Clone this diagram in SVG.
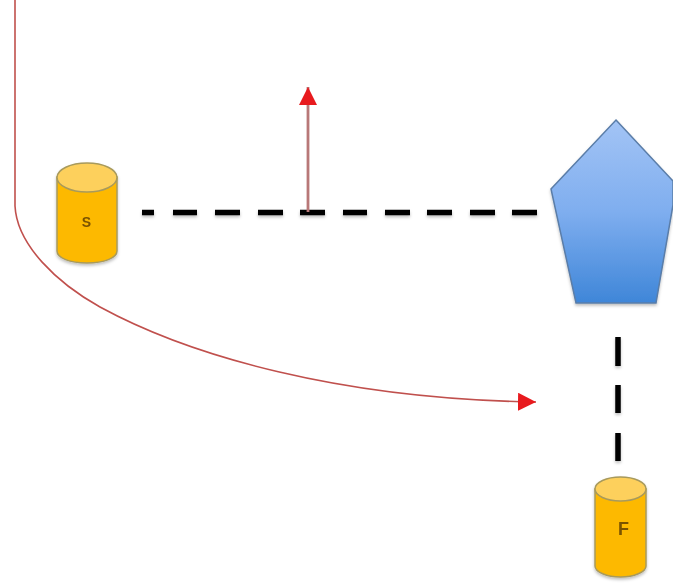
<svg xmlns="http://www.w3.org/2000/svg" width="673" height="583" viewBox="0 0 673 583">
<defs>
<linearGradient id="blue" x1="0" y1="0" x2="0" y2="1"><stop offset="0" stop-color="#a3c4f5"/><stop offset="0.5" stop-color="#7faeef"/><stop offset="1" stop-color="#3f86d8"/></linearGradient>
<marker id="ah" markerUnits="userSpaceOnUse" markerWidth="19" markerHeight="19" refX="18" refY="9" orient="auto"><path d="M0 0L18 9L0 18Z" fill="#e81a1e"/></marker>
<filter id="sh" filterUnits="userSpaceOnUse" x="0" y="0" width="673" height="583"><feDropShadow dx="0" dy="2" stdDeviation="1.500" flood-color="#000" flood-opacity="0.25"/></filter>
</defs>
<style>
.dash{fill:none;stroke:#000;stroke-width:5.5;filter:url(#sh)}
.red{fill:none;stroke:#c0504d;stroke-width:1.6}
.body{fill:#fdb900;stroke:#a89a5c;stroke-width:1.5}
.top{fill:#fdd05c;stroke:#a89a5c;stroke-width:1.5}
.lab{font-family:"Liberation Sans",Arial,sans-serif;fill:#7a5200;font-weight:bold}
.node{filter:url(#sh)}
</style>
<rect width="673" height="583" fill="#fff"/>
<g id="connectors">
<path class="dash" d="M142 212.500H154M173 212.500H197M215 212.500H240M258 212.500H283M300 212.500H325M343 212.500H367M385 212.500H410M427 212.500H452M470 212.500H495M512 212.500H537"/>
<path class="dash" d="M618 337V366M618 385V413M618 433V461"/>
<path fill="none" stroke="#b87878" stroke-width="2.800" d="M308 212V87" marker-end="url(#ah)"/>
<path class="red" d="M15 0V206C17 245 57 283 100 307C190 356 340 399 536 402" marker-end="url(#ah)"/>
</g>
<g id="node-s" class="node">
<path class="body" d="M57 177V251C57 258 70 263 87 263C104 263 117 258 117 251V177Z"/>
<ellipse class="top" cx="87" cy="177.500" rx="30" ry="14.500"/>
<text class="lab" x="86.500" y="227" font-size="14" text-anchor="middle">S</text>
</g>
<g id="node-pentagon" class="node">
<polygon points="616,120 673,181 673,205 656,303 576,303 551,189" fill="url(#blue)" stroke="#5a7da8" stroke-width="1.500"/>
</g>
<g id="node-f" class="node">
<path class="body" d="M595 489V566C595 572 607 577 620.500 577C634 577 646 572 646 566V489Z"/>
<ellipse class="top" cx="620.500" cy="489" rx="25.500" ry="12"/>
<text class="lab" x="623.500" y="535" font-size="18" text-anchor="middle">F</text>
</g>
</svg>
